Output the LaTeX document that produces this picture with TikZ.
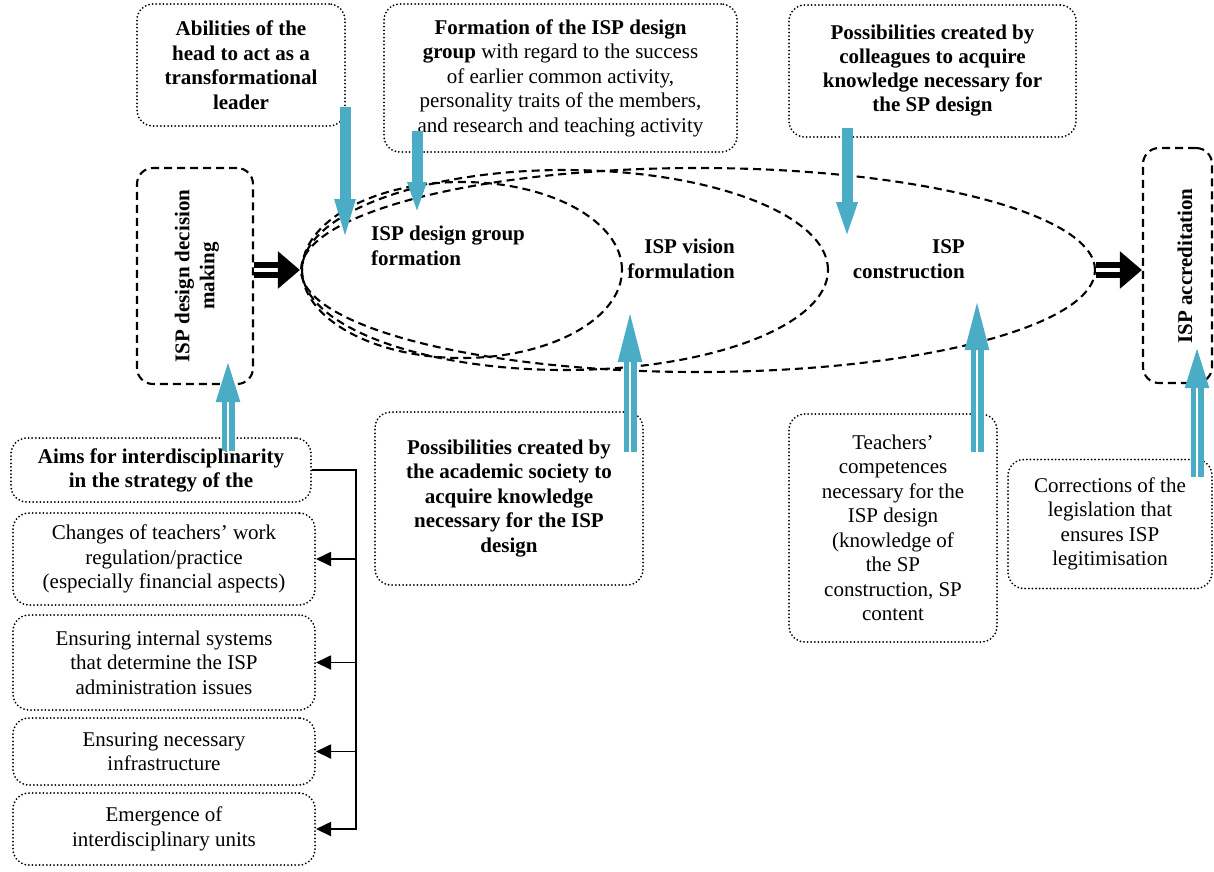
\documentclass[tikz,border=0pt]{standalone}
\usepackage{fontspec}
\setmainfont{Liberation Serif}
\usetikzlibrary{arrows.meta,shapes.geometric}
\definecolor{aqua}{HTML}{4BACC6}

\begin{document}
\begin{tikzpicture}[x=1pt,y=-1pt,
  dotbox/.style={draw,line width=2pt,dash pattern=on 0pt off 3.6pt,line cap=round,rounded corners=16pt,inner sep=0pt,align=center,font=\fontsize{21}{24.5}\selectfont},
  dashbox/.style={draw,line width=2.1pt,dash pattern=on 8pt off 5pt,rounded corners=16pt,inner sep=0pt},
  stage/.style={draw,ellipse,line width=2.1pt,dash pattern=on 8pt off 5pt,inner sep=0pt},
  lbl/.style={inner sep=0pt,font=\fontsize{21}{25}\selectfont\bfseries},
  blockarr/.style={draw=black,line width=6pt,double=white,double distance=4pt,-{Triangle[length=22pt,width=36pt]}},
  downarr/.style={draw=aqua,line width=11pt,-{Triangle[length=#1,width=17pt]}},
  uparr/.style={draw=aqua,line width=5.5pt,double=white,double distance=2pt,-{Triangle[length=#1,width=23pt]}},
  conn/.style={line width=1.8pt,-{Triangle[length=15pt,width=14pt]}}]
\path[use as bounding box] (0,0) rectangle (1214,871);
\node[dotbox,minimum width=208pt,minimum height=122pt,font=\fontsize{21}{24.5}\selectfont\bfseries] (abil) at (241,65) {Abilities of the\\head to act as a\\transformational\\leader};
\node[dotbox,minimum width=353pt,minimum height=148pt] (formgrp) at (560.5,78) {\textbf{Formation of the ISP design}\\\textbf{group} with regard to the success\\of earlier common activity,\\personality traits of the members,\\and research and teaching activity};
\node[dotbox,minimum width=287pt,minimum height=132pt,font=\fontsize{21}{24}\selectfont\bfseries] (colleag) at (932.5,71) {Possibilities created by\\colleagues to acquire\\knowledge necessary for\\the SP design};
\node[dashbox,minimum width=116pt,minimum height=216pt] (decide) at (195,276) {};
\node[lbl,rotate=90,align=center] (decidetxt) at (197,276) {ISP design decision\\making};
\node[dashbox,minimum width=69pt,minimum height=235pt] (accr) at (1177.5,265.5) {};
\node[lbl,rotate=90] (accrtxt) at (1185,266) {ISP accreditation};
\node[stage,minimum width=794pt,minimum height=204pt] (conell) at (698,270) {};
\node[stage,minimum width=526pt,minimum height=200pt] (visell) at (565,270) {};
\node[stage,minimum width=320pt,minimum height=176pt] (grpell) at (462,270) {};
\node[lbl,anchor=west,align=left] (grptxt) at (371,246) {ISP design group\\formation};
\node[lbl,anchor=east,align=right] (vistxt) at (735,259) {ISP vision\\formulation};
\node[lbl,anchor=east,align=right] (contxt) at (965,259) {ISP\\construction};
\node[dotbox,minimum width=300pt,minimum height=64pt,font=\fontsize{21}{24}\selectfont\bfseries] (aims) at (161,470) {Aims for interdisciplinarity\\in the strategy of the};
\node[dotbox,minimum width=302pt,minimum height=92pt] (changes) at (164,559) {Changes of teachers’ work\\regulation/practice\\(especially financial aspects)};
\node[dotbox,minimum width=302pt,minimum height=95pt] (systems) at (164,662.5) {Ensuring internal systems\\that determine the ISP\\administration issues};
\node[dotbox,minimum width=302pt,minimum height=67pt] (infra) at (164,751.5) {Ensuring necessary\\infrastructure};
\node[dotbox,minimum width=302pt,minimum height=72pt] (units) at (164,829) {Emergence of\\interdisciplinary units};
\node[dotbox,minimum width=268pt,minimum height=173pt,font=\fontsize{21}{24.5}\selectfont\bfseries] (academ) at (509,498.5) {Possibilities created by\\the academic society to\\acquire knowledge\\necessary for the ISP\\design};
\node[dotbox,minimum width=208pt,minimum height=228pt] (compet) at (893,528) {Teachers’\\competences\\necessary for the\\ISP design\\(knowledge of\\the SP\\construction, SP\\content};
\node[dotbox,minimum width=204pt,minimum height=129pt] (legis) at (1110,524) {Corrections of the\\legislation that\\ensures ISP\\legitimisation};
\draw[blockarr] (decide.east |- conell.west) -- (conell.west);
\draw[blockarr] (conell.east) -- (accr.west |- conell.east);
\coordinate (bus) at ([xshift=44pt]aims.east);
\draw[conn] (aims.east) -- (bus) |- (units.east);
\foreach \b in {changes,systems,infra} \draw[conn] (bus |- \b.east) -- (\b.east);
\coordinate (abilfoot) at (345,107);
\coordinate (abiltip) at (345,249);
\coordinate (formfoot) at (417,131);
\coordinate (formtip) at (417,214);
\coordinate (collfoot) at (847,128);
\coordinate (colltip) at (847,247);
\draw[downarr=50pt] (abilfoot) -- (abiltip);
\draw[downarr=32pt] (formfoot) -- (formtip);
\draw[downarr=45pt] (collfoot) -- (colltip);
\coordinate (aimshead) at (228,451);
\coordinate (decidetip) at (228,362);
\coordinate (academhead) at (630,452);
\coordinate (vistip) at (630,313);
\coordinate (compethead) at (977,452);
\coordinate (contip) at (977,302);
\coordinate (legishead) at (1197,477);
\coordinate (accrtip) at (1197,348);
\draw[uparr=40pt] (aimshead) -- (decidetip);
\draw[uparr=49pt] (academhead) -- (vistip);
\draw[uparr=48pt] (compethead) -- (contip);
\draw[uparr=40pt] (legishead) -- (accrtip);
\end{tikzpicture}
\end{document}
